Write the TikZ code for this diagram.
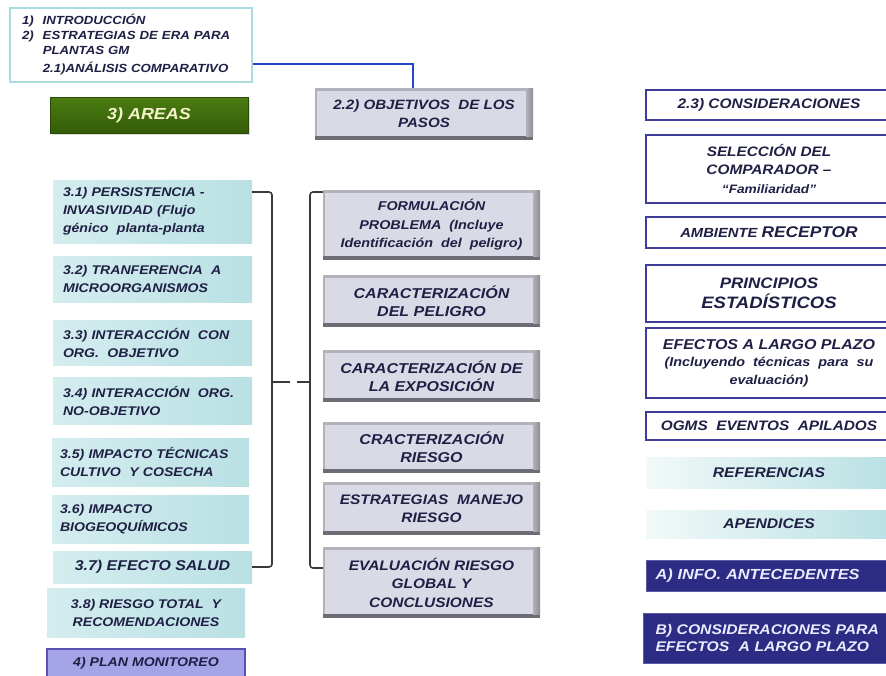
\documentclass[tikz,border=0pt]{standalone}
\usepackage{fontspec}
\setmainfont{Liberation Sans}
\newfontfamily\bifont{Liberation Sans Bold Italic}[FakeStretch=1.12]
\usetikzlibrary{shadows}
\definecolor{ink}{HTML}{1F1F45}
\definecolor{cyL}{HTML}{D4EDEF}
\definecolor{cyR}{HTML}{B9E0E3}
\definecolor{cyPale}{HTML}{F2F9F9}
\definecolor{introln}{HTML}{A8DCE0}
\definecolor{linkblue}{HTML}{2446C8}
\definecolor{grnTop}{HTML}{4C7C12}
\definecolor{grnBot}{HTML}{335C08}
\definecolor{grnEdge}{HTML}{2A4806}
\definecolor{areatext}{HTML}{F4F4C8}
\definecolor{face}{HTML}{DADAE6}
\definecolor{bevtop}{HTML}{B2B2BA}
\definecolor{bevside}{HTML}{8C8C94}
\definecolor{bevbot}{HTML}{6C6C74}
\definecolor{navyln}{HTML}{3E3E98}
\definecolor{navyfill}{HTML}{2C2C84}
\definecolor{navyedge}{HTML}{5A5AA4}
\definecolor{lavfill}{HTML}{A4A4E6}
\definecolor{lavedge}{HTML}{5B4FB3}
\definecolor{brk}{HTML}{3A3A3A}
\newcommand\fz[2]{\fontsize{#1}{#2}\selectfont}
\begin{document}
\begin{tikzpicture}[x=1pt,y=-1pt,
  base/.style={inner sep=0pt, text=ink, align=center},
  f/.style 2 args={font=\bifont\fontsize{#1}{#2}\selectfont},
  sz/.style 2 args={minimum width=#1pt, minimum height=#2pt},
  cyanbox/.style={base, left color=cyL, right color=cyR},
  palebox/.style={base, left color=cyPale, right color=cyR},
  leftcol/.style={cyanbox, f={12.6}{18}, align=left, inner xsep=10pt, text width=#1pt},
  bevel/.style={base, fill=bevbot, path picture={
      \fill[bevtop] (path picture bounding box.north west)
        rectangle ([yshift=4pt]path picture bounding box.south east);
      \shade[left color=bevtop, right color=bevside]
        ([xshift=-7pt]path picture bounding box.north east)
        rectangle ([yshift=4pt]path picture bounding box.south east);
      \fill[face] ([xshift=2pt,yshift=-3pt]path picture bounding box.north west)
        rectangle ([xshift=-7pt,yshift=4pt]path picture bounding box.south east);
    }},
  wbox/.style={base, draw=navyln, line width=1.6pt, fill=white},
  navybox/.style={base, fill=navyfill, draw=navyedge, line width=1pt,
      text=white!92!blue, align=left, anchor=west, inner xsep=#1pt, text width=250pt},
  brkline/.style={draw=brk, line width=1.6pt, rounded corners=3pt},
]
\useasboundingbox[fill=white] (0,0) rectangle (886,675);

% ---- introduction box and link ----
\node[base, draw=introln, line width=1.5pt, fill=white, sz={242}{74}, f={11.8}{15},
  align=left, text width=218pt, inner xsep=12pt]
  (intro) at (131,45)
  {\begin{tabular}{@{}l@{\hspace{9pt}}l@{}}
    1) & INTRODUCCIÓN\\
    2) & ESTRATEGIAS DE ERA PARA\\
       & PLANTAS GM\\[3pt]
       & 2.1)ANÁLISIS COMPARATIVO
   \end{tabular}};

\node[bevel, sz={218}{52}, f={13.5}{18}] (obj) at (424,114)
  {2.2) OBJETIVOS \ DE LOS\\PASOS};
\draw[linkblue, line width=1.3pt] ([yshift=-19pt]intro.east) -| ([xshift=-11pt]obj.north);

\node[base, top color=grnTop, bottom color=grnBot, draw=grnEdge, line width=1pt,
  sz={198}{36}, f={16}{18}, text=areatext,
  drop shadow={opacity=0.25, shadow xshift=1.5pt, shadow yshift=-1.5pt}]
  (areas) at (149,115) {3) AREAS};

% ---- areas column ----
\node[leftcol=179, sz={199}{63}] (s31) at (152.5,211.5)
  {3.1) PERSISTENCIA -\\INVASIVIDAD (Flujo\\génico \ planta-planta};
\node[leftcol=179, sz={199}{46}] (s32) at (152.5,279)
  {3.2) TRANFERENCIA \ A\\MICROORGANISMOS};
\node[leftcol=179, sz={199}{45}] (s33) at (152.5,342.5)
  {3.3) INTERACCIÓN \ CON\\ORG. \ OBJETIVO};
\node[leftcol=179, sz={199}{47}] (s34) at (152.5,400.5)
  {3.4) INTERACCIÓN \ ORG.\\NO-OBJETIVO};
\node[leftcol=181, sz={197}{48}, inner xsep=8pt] (s35) at (150.5,462)
  {3.5) IMPACTO TÉCNICAS\\CULTIVO \ Y COSECHA};
\node[leftcol=181, sz={197}{48}, inner xsep=8pt] (s36) at (150.5,519)
  {3.6) IMPACTO\\BIOGEOQUÍMICOS};
\node[cyanbox, sz={199}{32}, f={14.2}{18}] (s37) at (152.5,567) {3.7) EFECTO SALUD};
\node[cyanbox, sz={198}{49}, f={12.6}{18}] (s38) at (146,612.5)
  {3.8) RIESGO TOTAL \ Y\\RECOMENDACIONES};
\node[base, fill=lavfill, draw=lavedge, line width=1.5pt, sz={198}{28}, f={12.6}{18}]
  (plan) at (146,663) {4) PLAN MONITOREO};

% ---- steps column ----
\node[bevel, sz={217}{70}, f={12.8}{18.5}] (fp) at (431.5,225)
  {FORMULACIÓN\\PROBLEMA \ (Incluye\\Identificación \ del \ peligro)};
\node[bevel, sz={217}{52}, f={14.3}{18}] (cp) at (431.5,301)
  {CARACTERIZACIÓN\\DEL PELIGRO};
\node[bevel, sz={217}{52}, f={14.3}{18}] (ce) at (431.5,376)
  {CARACTERIZACIÓN DE\\LA EXPOSICIÓN};
\node[bevel, sz={217}{51}, f={14.3}{18}] (cr) at (431.5,447.5)
  {CRACTERIZACIÓN\\RIESGO};
\node[bevel, sz={217}{53}, f={13.8}{18}] (em) at (431.5,508.5)
  {ESTRATEGIAS \ MANEJO\\RIESGO};
\node[bevel, sz={217}{71}, f={13.8}{18.5}] (eg) at (431.5,582.5)
  {EVALUACIÓN RIESGO\\GLOBAL Y\\CONCLUSIONES};

% ---- brackets joining the two columns ----
\coordinate (lbk) at (272,382);
\coordinate (rbk) at (310,382);
\coordinate (ltip) at (290,382);
\coordinate (rtip) at (297,382);
\draw[brkline] ([yshift=19.5pt]s31.east) -| (lbk) |- (s37.east);
\draw[brkline] ([yshift=33pt]fp.west) -| (rbk) |- ([yshift=14.5pt]eg.west);
\draw[brk, line width=1.6pt] (lbk) -- (ltip);
\draw[brk, line width=1.6pt] (rtip) -- (rbk);

% ---- considerations column ----
\node[wbox, sz={246}{30}, f={13.8}{18}] (c23) at (769,105) {2.3) CONSIDERACIONES};
\node[wbox, sz={246}{68}, f={13.7}{18.5}] (sel) at (769,169)
  {SELECCIÓN DEL\\COMPARADOR –\\{\fz{12.2}{18}“Familiaridad”}};
\node[wbox, sz={246}{31}, f={13.2}{18}] (amb) at (769,232.5)
  {AMBIENTE {\fz{15.5}{18}RECEPTOR}};
\node[wbox, sz={246}{57}, f={15.2}{20}] (pri) at (769,293.5)
  {PRINCIPIOS\\{\fz{16.5}{20}ESTADÍSTICOS}};
\node[wbox, sz={246}{70}, f={14.3}{17.5}] (efe) at (769,363)
  {EFECTOS A LARGO PLAZO\\{\fz{12.8}{17.5}(Incluyendo \ técnicas \ para \ su}\\{\fz{12.8}{17.5}evaluación)}};
\node[wbox, sz={246}{28}, f={13.7}{18}] (ogm) at (769,426) {OGMS \ EVENTOS \ APILADOS};
\node[palebox, sz={246}{31}, f={14}{18}] (ref) at (769,472.5) {REFERENCIAS};
\node[palebox, sz={246}{28}, f={14}{18}] (ape) at (769,524) {APENDICES};
\node[navybox=9, sz={246}{31}, f={14.6}{18}] (ant) at (646,575.5) {A) INFO. ANTECEDENTES};
\node[navybox=12, sz={249}{50}, f={14}{17}] (lpz) at (643,638)
  {B) CONSIDERACIONES PARA\\EFECTOS \ A LARGO PLAZO};
\end{tikzpicture}
\end{document}
